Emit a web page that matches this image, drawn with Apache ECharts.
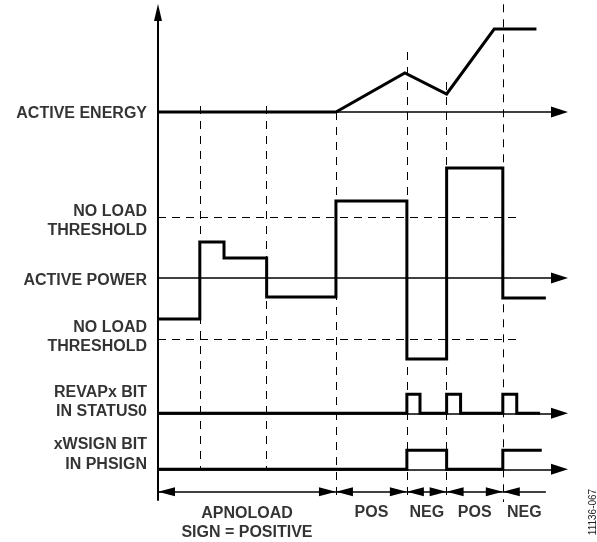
<!DOCTYPE html>
<html>
<head>
<meta charset="utf-8">
<script src="https://cdn.jsdelivr.net/npm/echarts@6.0.0/dist/echarts.min.js"></script>
<style>
  html, body { margin: 0; padding: 0; background: #fff; }
  #chart { width: 597px; height: 542px; }
</style>
</head>
<body>
<div id="chart"></div>
<script>
// time axis runs 0..100, event instants where the power changes sign / level
const events = [10.2, 26.5, 43.4, 60.7, 70.4, 84.1];

// active energy (accumulated), relative to its own baseline
const energyT = [0, 43.4, 60.2, 70.4, 82.0, 92.3];
const energyV = [0, 0, 39, 18, 83, 83];

// active power, relative to its axis; no-load threshold is +/-
const powerT = [0, 10.2, 16.1, 26.5, 43.4, 60.7, 70.4, 84.1, 94.6];
const powerV = [-41, 36, 20, -19, 77, -81, 110, -20, -20];
const noLoad = 61;
const thresholdEnd = 88.5;

// status bits
const revapT = [0, 60.7, 63.9, 70.4, 73.8, 84.1, 87.5, 93.2];
const revapBit = [0, 1, 0, 1, 0, 1, 0, 0];
const wsignT = [0, 60.7, 70.4, 84.1, 93.6];
const wsignBit = [0, 1, 0, 1, 1];

// sign intervals along the bottom
const segments = [[0, 43.4], [43.4, 60.7], [60.7, 70.4], [70.4, 84.1], [84.1, 94.6]];
const segNames = ['APNOLOAD\nSIGN = POSITIVE', 'POS', 'NEG', 'POS', 'NEG'];

const rowNames = ['ACTIVE ENERGY', 'NO LOAD\nTHRESHOLD', 'ACTIVE POWER', 'NO LOAD\nTHRESHOLD',
  'REVAPx BIT\nIN STATUS0', 'xWSIGN BIT\nIN PHSIGN'];

// ---- layout (y in drawing units, 0 = bottom of picture) ----
const Y_ENERGY = 430, Y_POWER = 264, Y_REVAP = 128.7, Y_WSIGN = 72.7, Y_SEG = 50.3;
const BIT_H = 19;
const AXIS_BOTTOM = 41.3, AXIS_TOP = 538;
const guideTop = [436, 436, 430, 490, 460, 537.7];
const guideBottom = [Y_WSIGN, Y_WSIGN, 40, 40, 40, 40];
const rowLabelY = [428, 320.7, 261.5, 204.8, 139.8, 87.6];
const segLabelY = [19, 29, 29, 29, 29];

const INK = '#000';
const FONT = 'Liberation Sans, Arial, sans-serif';

const pts = (ts, vs, base, k) => ts.map((t, i) => [t, base + vs[i] * (k || 1)]);
const seg = (a, b) => [{ coord: a }, { coord: b }];

function marks(data, lineStyle) {
  return {
    type: 'line', data: [], silent: true, color: INK,
    markLine: {
      silent: true, animation: false, symbol: 'none',
      label: { show: false }, emphasis: { disabled: true },
      lineStyle: Object.assign({ color: INK, type: 'solid' }, lineStyle),
      data
    }
  };
}

function trace(data, step) {
  return {
    type: 'line', data, step: step || false, showSymbol: false, silent: true, z: 5,
    color: INK, lineStyle: { color: INK, width: 3, join: 'miter', cap: 'butt' }
  };
}

// arrowheads placed by their tip; the triangle is pulled back half its length
const up = (p, w) => ({ value: p, symbolRotate: 0, symbolSize: [w, 17], symbolOffset: [0, 8.5] });
const right = (p, w) => ({ value: p, symbolRotate: -90, symbolSize: [w, 17], symbolOffset: [-8.5, 0] });
const left = (p, w) => ({ value: p, symbolRotate: 90, symbolSize: [w, 17], symbolOffset: [8.5, 0] });

const heads = [up([0, AXIS_TOP], 8)];
[Y_ENERGY, Y_POWER, Y_REVAP, Y_WSIGN].forEach(y => heads.push(right([100, y], 11)));
segments.forEach((s, i) => {
  heads.push(left([s[0], Y_SEG], 9));
  if (i < segments.length - 1) heads.push(right([s[1], Y_SEG], 9));
});

const chart = echarts.init(document.getElementById('chart'));
chart.setOption({
  animation: false,
  backgroundColor: '#fff',
  grid: { left: 158, right: 29, top: 0, bottom: 0 },
  xAxis: { type: 'value', min: 0, max: 100, show: false },
  yAxis: { type: 'value', min: 0, max: 542, show: false },
  graphic: [{
    type: 'text', x: 593, y: 512, rotation: Math.PI / 2,
    style: { text: '11136-067', fill: '#222', font: '10px ' + FONT, align: 'center', verticalAlign: 'middle' }
  }],
  series: [
    // vertical axis
    marks([seg([0, AXIS_BOTTOM], [0, AXIS_TOP - 8])], { width: 2 }),
    // horizontal axes
    marks([Y_ENERGY, Y_POWER, Y_REVAP, Y_WSIGN].map(y => seg([0, y], [98, y])), { width: 1.5 }),
    // event guides
    marks(events.map((t, i) => seg([t, guideTop[i]], [t, guideBottom[i]])), { width: 1, type: [8, 7] }),
    // no-load thresholds
    marks([noLoad, -noLoad].map(v => seg([0, Y_POWER + v], [thresholdEnd, Y_POWER + v])), { width: 1, type: [8, 6] }),
    // sign interval arrows
    marks(segments.map(s => seg([s[0], Y_SEG], [s[1], Y_SEG])), { width: 1.5 }),
    {
      type: 'scatter', symbol: 'triangle', silent: true, clip: false, z: 6,
      itemStyle: { color: INK, opacity: 1 },
      data: heads
    },
    trace(pts(energyT, energyV, Y_ENERGY)),
    trace(pts(powerT, powerV, Y_POWER), 'end'),
    trace(pts(revapT, revapBit, Y_REVAP, BIT_H), 'end'),
    trace(pts(wsignT, wsignBit, Y_WSIGN, BIT_H), 'end'),
    {
      type: 'scatter', symbolSize: 0, silent: true, clip: false,
      data: rowNames.map((n, i) => ({ name: n, value: [0, rowLabelY[i]] })),
      label: {
        show: true, position: 'left', distance: 11, formatter: '{b}', align: 'right',
        fontFamily: FONT, fontWeight: 'bold', fontSize: 16, lineHeight: 19.5, color: INK
      }
    },
    {
      type: 'scatter', symbolSize: 0, silent: true, clip: false,
      data: segNames.map((n, i) => ({ name: n, value: [(segments[i][0] + segments[i][1]) / 2, segLabelY[i]] })),
      label: {
        show: true, position: 'inside', formatter: '{b}', align: 'center',
        fontFamily: FONT, fontWeight: 'bold', fontSize: 16, lineHeight: 19.5, color: INK
      }
    }
  ]
});
</script>
</body>
</html>
